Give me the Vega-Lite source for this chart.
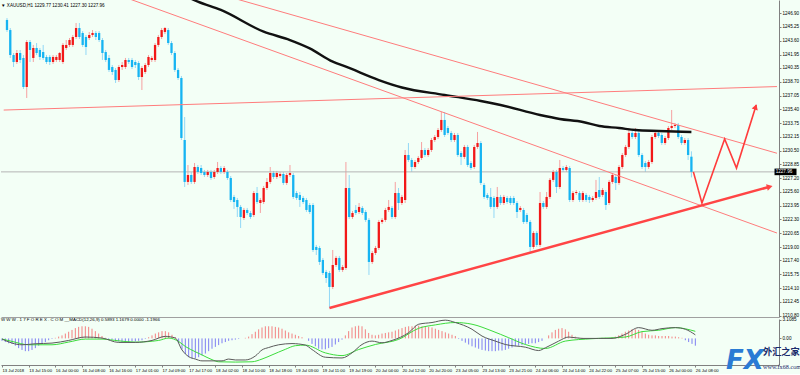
{
"$schema": "https://vega.github.io/schema/vega-lite/v6.json",
"background": "#F3FFF6",
"padding": 0,
"spacing": 2,
"bounds": "flush",
"config": {"view": {"stroke": null}, "axis": {"labelFont": "Liberation Sans", "labelFontSize": 4.6, "labelColor": "#000000", "domainColor": "#808080", "tickColor": "#808080", "grid": false, "labelOverlap": false, "labelSeparation": 0}},
"datasets": {
"bars": [
{"i":0,"o":1246.07,"h":1246.30,"l":1244.64,"c":1244.87,"m":-0.4},
{"i":1,"o":1244.87,"h":1245.11,"l":1241.54,"c":1241.89,"m":-0.6},
{"i":2,"o":1241.89,"h":1242.13,"l":1240.46,"c":1241.06,"m":-0.8},
{"i":3,"o":1241.06,"h":1242.49,"l":1240.82,"c":1242.13,"m":-0.9},
{"i":4,"o":1242.13,"h":1242.49,"l":1240.94,"c":1241.30,"m":-1.2},
{"i":5,"o":1241.54,"h":1241.89,"l":1237.84,"c":1238.08,"m":-1.6},
{"i":6,"o":1238.08,"h":1243.68,"l":1236.77,"c":1243.44,"m":-1.9},
{"i":7,"o":1243.44,"h":1243.68,"l":1241.06,"c":1242.49,"m":-2.1},
{"i":8,"o":1241.54,"h":1243.09,"l":1241.06,"c":1242.73,"m":-2.1},
{"i":9,"o":1242.73,"h":1243.32,"l":1241.89,"c":1242.13,"m":-1.9},
{"i":10,"o":1242.49,"h":1242.73,"l":1241.30,"c":1241.66,"m":-1.6},
{"i":11,"o":1242.25,"h":1243.09,"l":1241.30,"c":1241.54,"m":-1.2},
{"i":12,"o":1241.66,"h":1241.89,"l":1240.82,"c":1241.06,"m":-0.9},
{"i":13,"o":1241.66,"h":1241.89,"l":1240.70,"c":1241.06,"m":-0.6},
{"i":14,"o":1241.06,"h":1241.89,"l":1240.82,"c":1241.66,"m":-0.3},
{"i":15,"o":1241.30,"h":1241.89,"l":1241.06,"c":1241.66,"m":-0.1},
{"i":16,"o":1241.30,"h":1242.25,"l":1241.06,"c":1242.13,"m":0.1},
{"i":17,"o":1241.06,"h":1243.32,"l":1240.82,"c":1243.09,"m":0.3},
{"i":18,"o":1242.73,"h":1243.68,"l":1242.49,"c":1243.09,"m":0.5},
{"i":19,"o":1243.09,"h":1243.92,"l":1242.85,"c":1243.68,"m":0.8},
{"i":20,"o":1243.09,"h":1244.28,"l":1242.85,"c":1244.04,"m":1.1},
{"i":21,"o":1244.04,"h":1245.71,"l":1243.80,"c":1245.11,"m":1.4},
{"i":22,"o":1245.11,"h":1245.71,"l":1243.80,"c":1244.04,"m":1.7},
{"i":23,"o":1244.52,"h":1244.75,"l":1242.85,"c":1243.09,"m":1.9},
{"i":24,"o":1244.04,"h":1244.28,"l":1241.89,"c":1242.85,"m":2.0},
{"i":25,"o":1243.92,"h":1244.64,"l":1243.68,"c":1244.28,"m":2.0},
{"i":26,"o":1244.28,"h":1244.87,"l":1244.04,"c":1244.52,"m":1.9},
{"i":27,"o":1244.52,"h":1244.75,"l":1243.68,"c":1244.04,"m":1.6},
{"i":28,"o":1244.52,"h":1244.75,"l":1243.44,"c":1243.68,"m":1.2},
{"i":29,"o":1243.68,"h":1243.92,"l":1241.30,"c":1242.13,"m":0.8},
{"i":30,"o":1242.25,"h":1242.49,"l":1241.06,"c":1241.30,"m":0.4},
{"i":31,"o":1241.54,"h":1241.89,"l":1239.87,"c":1240.11,"m":0.1},
{"i":32,"o":1240.46,"h":1240.70,"l":1239.51,"c":1239.87,"m":-0.1},
{"i":33,"o":1240.11,"h":1240.34,"l":1238.56,"c":1238.91,"m":-0.2},
{"i":34,"o":1238.91,"h":1240.70,"l":1238.68,"c":1240.46,"m":-0.4},
{"i":35,"o":1240.46,"h":1241.06,"l":1240.11,"c":1240.70,"m":-0.5},
{"i":36,"o":1240.46,"h":1241.54,"l":1240.23,"c":1241.30,"m":-0.6},
{"i":37,"o":1241.30,"h":1241.54,"l":1240.82,"c":1241.06,"m":-0.6},
{"i":38,"o":1241.30,"h":1241.54,"l":1240.23,"c":1240.46,"m":-0.6},
{"i":39,"o":1241.06,"h":1241.30,"l":1240.34,"c":1240.70,"m":-0.5},
{"i":40,"o":1240.94,"h":1241.18,"l":1238.91,"c":1239.27,"m":-0.5},
{"i":41,"o":1239.27,"h":1240.58,"l":1237.72,"c":1240.34,"m":-0.4},
{"i":42,"o":1239.87,"h":1240.94,"l":1239.63,"c":1240.70,"m":-0.3},
{"i":43,"o":1240.70,"h":1241.89,"l":1240.46,"c":1241.66,"m":-0.1},
{"i":44,"o":1241.30,"h":1241.77,"l":1241.06,"c":1241.54,"m":0.2},
{"i":45,"o":1241.30,"h":1243.32,"l":1241.06,"c":1243.09,"m":0.5},
{"i":46,"o":1243.09,"h":1244.28,"l":1242.85,"c":1244.04,"m":0.8},
{"i":47,"o":1244.04,"h":1245.11,"l":1243.80,"c":1244.87,"m":1.0},
{"i":48,"o":1244.64,"h":1245.23,"l":1244.40,"c":1245.11,"m":1.2},
{"i":49,"o":1244.87,"h":1245.11,"l":1243.09,"c":1243.32,"m":1.2},
{"i":50,"o":1243.32,"h":1243.56,"l":1241.89,"c":1242.13,"m":1.0},
{"i":51,"o":1242.13,"h":1242.37,"l":1239.87,"c":1240.11,"m":0.6},
{"i":52,"o":1240.11,"h":1240.34,"l":1238.91,"c":1239.15,"m":0.2},
{"i":53,"o":1239.15,"h":1239.39,"l":1231.76,"c":1232.00,"m":-0.8},
{"i":54,"o":1231.76,"h":1234.50,"l":1226.16,"c":1226.76,"m":-1.8},
{"i":55,"o":1226.76,"h":1228.78,"l":1226.40,"c":1227.59,"m":-2.6},
{"i":56,"o":1227.59,"h":1227.95,"l":1226.52,"c":1226.76,"m":-3.1},
{"i":57,"o":1226.76,"h":1229.02,"l":1226.52,"c":1228.54,"m":-3.3},
{"i":58,"o":1228.54,"h":1228.78,"l":1227.71,"c":1227.95,"m":-3.3},
{"i":59,"o":1228.42,"h":1228.78,"l":1227.59,"c":1227.83,"m":-3.1},
{"i":60,"o":1227.95,"h":1228.19,"l":1227.35,"c":1227.59,"m":-2.8},
{"i":61,"o":1227.59,"h":1228.19,"l":1227.35,"c":1227.95,"m":-2.5},
{"i":62,"o":1227.95,"h":1228.19,"l":1227.00,"c":1227.23,"m":-2.1},
{"i":63,"o":1227.35,"h":1228.19,"l":1227.11,"c":1227.95,"m":-1.7},
{"i":64,"o":1227.95,"h":1229.14,"l":1227.71,"c":1228.42,"m":-1.4},
{"i":65,"o":1228.42,"h":1228.66,"l":1227.71,"c":1227.95,"m":-1.1},
{"i":66,"o":1227.95,"h":1228.66,"l":1227.71,"c":1228.42,"m":-0.8},
{"i":67,"o":1227.95,"h":1228.19,"l":1227.00,"c":1227.23,"m":-0.6},
{"i":68,"o":1227.23,"h":1227.47,"l":1224.37,"c":1224.61,"m":-0.4},
{"i":69,"o":1224.97,"h":1225.21,"l":1223.54,"c":1224.37,"m":-0.3},
{"i":70,"o":1224.61,"h":1224.85,"l":1222.58,"c":1223.78,"m":-0.2},
{"i":71,"o":1223.78,"h":1224.01,"l":1221.27,"c":1222.58,"m":-0.1},
{"i":72,"o":1222.46,"h":1223.66,"l":1222.23,"c":1223.42,"m":0.0},
{"i":73,"o":1223.42,"h":1223.66,"l":1222.82,"c":1223.06,"m":0.1},
{"i":74,"o":1223.06,"h":1223.30,"l":1222.35,"c":1222.58,"m":0.3},
{"i":75,"o":1222.82,"h":1225.68,"l":1222.58,"c":1225.44,"m":0.7},
{"i":76,"o":1225.44,"h":1226.16,"l":1224.13,"c":1224.37,"m":1.1},
{"i":77,"o":1224.25,"h":1224.85,"l":1223.06,"c":1224.61,"m":1.5},
{"i":78,"o":1224.37,"h":1226.28,"l":1224.13,"c":1226.04,"m":1.8},
{"i":79,"o":1226.04,"h":1227.23,"l":1225.80,"c":1226.76,"m":2.0},
{"i":80,"o":1226.76,"h":1228.54,"l":1226.52,"c":1227.83,"m":2.0},
{"i":81,"o":1227.83,"h":1228.07,"l":1227.11,"c":1227.35,"m":2.0},
{"i":82,"o":1227.35,"h":1228.07,"l":1227.11,"c":1227.83,"m":1.9},
{"i":83,"o":1227.47,"h":1227.95,"l":1227.23,"c":1227.71,"m":1.8},
{"i":84,"o":1227.71,"h":1227.95,"l":1226.40,"c":1226.64,"m":1.6},
{"i":85,"o":1226.64,"h":1227.83,"l":1226.40,"c":1227.59,"m":1.3},
{"i":86,"o":1227.59,"h":1228.78,"l":1227.35,"c":1227.83,"m":1.0},
{"i":87,"o":1227.59,"h":1227.83,"l":1224.73,"c":1224.97,"m":0.8},
{"i":88,"o":1225.44,"h":1225.68,"l":1224.61,"c":1224.85,"m":0.6},
{"i":89,"o":1225.21,"h":1225.56,"l":1223.78,"c":1224.61,"m":0.4},
{"i":90,"o":1224.85,"h":1225.09,"l":1224.13,"c":1224.37,"m":0.2},
{"i":91,"o":1224.61,"h":1224.85,"l":1223.18,"c":1223.42,"m":0.0},
{"i":92,"o":1224.01,"h":1224.25,"l":1222.94,"c":1223.18,"m":-0.4},
{"i":93,"o":1224.01,"h":1224.25,"l":1218.41,"c":1218.65,"m":-0.9},
{"i":94,"o":1219.01,"h":1219.25,"l":1218.05,"c":1218.65,"m":-1.3},
{"i":95,"o":1218.89,"h":1219.13,"l":1216.86,"c":1217.22,"m":-1.7},
{"i":96,"o":1217.46,"h":1217.70,"l":1215.67,"c":1215.91,"m":-1.8},
{"i":97,"o":1216.03,"h":1216.27,"l":1214.72,"c":1215.31,"m":-1.8},
{"i":98,"o":1215.91,"h":1216.15,"l":1211.74,"c":1214.24,"m":-1.6},
{"i":99,"o":1214.24,"h":1218.65,"l":1214.00,"c":1216.86,"m":-1.4},
{"i":100,"o":1216.86,"h":1217.94,"l":1216.62,"c":1217.70,"m":-1.0},
{"i":101,"o":1217.70,"h":1217.94,"l":1216.03,"c":1216.27,"m":-0.6},
{"i":102,"o":1216.27,"h":1216.86,"l":1216.03,"c":1216.62,"m":-0.2},
{"i":103,"o":1216.50,"h":1229.14,"l":1216.27,"c":1226.04,"m":0.5},
{"i":104,"o":1226.04,"h":1227.59,"l":1222.35,"c":1222.58,"m":1.2},
{"i":105,"o":1222.58,"h":1223.30,"l":1222.35,"c":1223.06,"m":1.8},
{"i":106,"o":1223.42,"h":1224.01,"l":1222.82,"c":1223.06,"m":2.0},
{"i":107,"o":1223.18,"h":1224.25,"l":1222.94,"c":1223.78,"m":2.1},
{"i":108,"o":1223.66,"h":1223.89,"l":1222.82,"c":1223.06,"m":2.0},
{"i":109,"o":1223.18,"h":1223.42,"l":1221.99,"c":1222.23,"m":1.5},
{"i":110,"o":1222.23,"h":1222.46,"l":1215.67,"c":1217.22,"m":0.9},
{"i":111,"o":1217.22,"h":1218.53,"l":1216.98,"c":1218.29,"m":0.6},
{"i":112,"o":1218.29,"h":1219.13,"l":1218.05,"c":1218.89,"m":0.5},
{"i":113,"o":1218.89,"h":1222.23,"l":1218.65,"c":1221.99,"m":0.6},
{"i":114,"o":1221.99,"h":1222.46,"l":1221.75,"c":1222.23,"m":0.8},
{"i":115,"o":1222.23,"h":1223.66,"l":1221.99,"c":1223.42,"m":0.9},
{"i":116,"o":1223.42,"h":1224.61,"l":1223.18,"c":1223.78,"m":1.0},
{"i":117,"o":1223.66,"h":1223.89,"l":1222.35,"c":1222.58,"m":1.1},
{"i":118,"o":1222.58,"h":1226.76,"l":1222.35,"c":1225.44,"m":1.3},
{"i":119,"o":1225.44,"h":1226.04,"l":1223.42,"c":1224.25,"m":1.5},
{"i":120,"o":1224.25,"h":1225.21,"l":1224.01,"c":1224.97,"m":1.7},
{"i":121,"o":1224.61,"h":1230.57,"l":1224.25,"c":1229.97,"m":1.9},
{"i":122,"o":1229.97,"h":1231.40,"l":1229.14,"c":1229.38,"m":2.0},
{"i":123,"o":1229.38,"h":1229.62,"l":1227.95,"c":1228.54,"m":2.0},
{"i":124,"o":1228.54,"h":1229.38,"l":1228.31,"c":1229.14,"m":2.1},
{"i":125,"o":1229.14,"h":1229.85,"l":1228.90,"c":1229.62,"m":2.1},
{"i":126,"o":1229.62,"h":1231.52,"l":1229.38,"c":1230.57,"m":2.0},
{"i":127,"o":1230.57,"h":1230.81,"l":1229.74,"c":1229.97,"m":2.0},
{"i":128,"o":1229.97,"h":1230.81,"l":1229.74,"c":1230.57,"m":1.9},
{"i":129,"o":1230.57,"h":1232.00,"l":1230.33,"c":1231.76,"m":1.8},
{"i":130,"o":1231.76,"h":1232.36,"l":1231.52,"c":1232.12,"m":1.6},
{"i":131,"o":1232.12,"h":1233.19,"l":1231.88,"c":1232.95,"m":1.4},
{"i":132,"o":1232.95,"h":1235.10,"l":1232.72,"c":1234.15,"m":1.2},
{"i":133,"o":1234.15,"h":1235.10,"l":1232.12,"c":1232.36,"m":1.0},
{"i":134,"o":1233.19,"h":1233.43,"l":1232.36,"c":1232.60,"m":0.8},
{"i":135,"o":1232.60,"h":1232.84,"l":1231.52,"c":1231.76,"m":0.6},
{"i":136,"o":1231.76,"h":1232.60,"l":1231.52,"c":1232.36,"m":0.4},
{"i":137,"o":1232.36,"h":1232.60,"l":1229.74,"c":1229.97,"m":-0.1},
{"i":138,"o":1230.21,"h":1230.45,"l":1228.78,"c":1229.74,"m":-0.4},
{"i":139,"o":1229.74,"h":1231.17,"l":1229.50,"c":1230.93,"m":-0.7},
{"i":140,"o":1230.93,"h":1231.17,"l":1228.54,"c":1228.78,"m":-1.0},
{"i":141,"o":1229.02,"h":1229.26,"l":1228.19,"c":1228.42,"m":-1.3},
{"i":142,"o":1228.54,"h":1231.17,"l":1228.31,"c":1230.93,"m":-1.5},
{"i":143,"o":1230.93,"h":1232.72,"l":1230.69,"c":1231.40,"m":-1.7},
{"i":144,"o":1231.40,"h":1231.64,"l":1226.40,"c":1226.64,"m":-1.9},
{"i":145,"o":1226.40,"h":1226.64,"l":1224.73,"c":1224.97,"m":-2.0},
{"i":146,"o":1225.21,"h":1225.44,"l":1224.61,"c":1224.85,"m":-2.1},
{"i":147,"o":1224.97,"h":1226.04,"l":1223.54,"c":1223.78,"m":-2.1},
{"i":148,"o":1224.85,"h":1225.09,"l":1222.46,"c":1223.78,"m":-2.1},
{"i":149,"o":1223.78,"h":1226.16,"l":1223.54,"c":1224.97,"m":-2.0},
{"i":150,"o":1224.97,"h":1225.21,"l":1224.01,"c":1224.25,"m":-2.0},
{"i":151,"o":1224.25,"h":1225.21,"l":1224.01,"c":1224.97,"m":-1.9},
{"i":152,"o":1224.85,"h":1225.09,"l":1224.13,"c":1224.37,"m":-1.7},
{"i":153,"o":1224.85,"h":1225.09,"l":1224.01,"c":1224.25,"m":-1.5},
{"i":154,"o":1224.85,"h":1225.09,"l":1224.01,"c":1224.25,"m":-1.3},
{"i":155,"o":1224.25,"h":1224.49,"l":1222.46,"c":1223.18,"m":-1.2},
{"i":156,"o":1223.42,"h":1223.89,"l":1223.18,"c":1223.66,"m":-1.1},
{"i":157,"o":1223.42,"h":1223.66,"l":1221.75,"c":1221.99,"m":-1.0},
{"i":158,"o":1222.82,"h":1223.06,"l":1221.75,"c":1221.99,"m":-0.9},
{"i":159,"o":1221.99,"h":1222.23,"l":1218.41,"c":1219.01,"m":-0.8},
{"i":160,"o":1219.01,"h":1220.91,"l":1218.77,"c":1220.68,"m":-0.8},
{"i":161,"o":1220.68,"h":1220.91,"l":1219.01,"c":1219.25,"m":-0.6},
{"i":162,"o":1219.25,"h":1225.56,"l":1219.01,"c":1224.25,"m":-0.4},
{"i":163,"o":1224.25,"h":1224.49,"l":1223.54,"c":1223.78,"m":0.0},
{"i":164,"o":1223.78,"h":1225.56,"l":1223.54,"c":1224.97,"m":0.5},
{"i":165,"o":1224.97,"h":1227.23,"l":1224.73,"c":1227.00,"m":1.0},
{"i":166,"o":1227.00,"h":1228.19,"l":1226.76,"c":1227.95,"m":1.4},
{"i":167,"o":1227.95,"h":1228.19,"l":1225.44,"c":1226.16,"m":1.6},
{"i":168,"o":1226.16,"h":1229.38,"l":1225.92,"c":1228.42,"m":1.7},
{"i":169,"o":1228.42,"h":1228.66,"l":1227.95,"c":1228.19,"m":1.5},
{"i":170,"o":1228.19,"h":1228.78,"l":1227.95,"c":1228.54,"m":1.1},
{"i":171,"o":1228.42,"h":1228.66,"l":1224.37,"c":1224.61,"m":0.6},
{"i":172,"o":1224.61,"h":1225.68,"l":1224.37,"c":1225.44,"m":0.3},
{"i":173,"o":1225.44,"h":1225.80,"l":1225.21,"c":1225.56,"m":0.1},
{"i":174,"o":1225.44,"h":1225.68,"l":1224.37,"c":1224.61,"m":0.1},
{"i":175,"o":1224.61,"h":1225.68,"l":1224.37,"c":1225.44,"m":0.05},
{"i":176,"o":1225.21,"h":1225.44,"l":1224.37,"c":1224.61,"m":0.05},
{"i":177,"o":1224.97,"h":1225.21,"l":1224.25,"c":1224.61,"m":0.0},
{"i":178,"o":1224.61,"h":1225.09,"l":1224.37,"c":1224.85,"m":-0.05},
{"i":179,"o":1224.85,"h":1227.00,"l":1224.61,"c":1225.56,"m":0.05},
{"i":180,"o":1225.80,"h":1227.35,"l":1224.73,"c":1224.97,"m":0.1},
{"i":181,"o":1225.21,"h":1226.04,"l":1224.97,"c":1225.80,"m":0.1},
{"i":182,"o":1225.56,"h":1225.80,"l":1223.42,"c":1224.01,"m":0.1},
{"i":183,"o":1224.25,"h":1227.00,"l":1224.01,"c":1226.76,"m":0.2},
{"i":184,"o":1226.76,"h":1227.83,"l":1226.52,"c":1227.59,"m":0.3},
{"i":185,"o":1227.35,"h":1227.59,"l":1225.80,"c":1226.64,"m":0.5},
{"i":186,"o":1226.64,"h":1228.78,"l":1226.40,"c":1228.54,"m":0.8},
{"i":187,"o":1228.54,"h":1230.21,"l":1228.31,"c":1229.97,"m":1.1},
{"i":188,"o":1229.97,"h":1231.17,"l":1229.74,"c":1230.93,"m":1.3},
{"i":189,"o":1230.93,"h":1233.19,"l":1230.69,"c":1232.60,"m":1.5},
{"i":190,"o":1232.60,"h":1232.84,"l":1231.88,"c":1232.12,"m":1.5},
{"i":191,"o":1232.12,"h":1233.19,"l":1231.88,"c":1232.60,"m":1.4},
{"i":192,"o":1232.60,"h":1232.84,"l":1229.74,"c":1229.97,"m":1.1},
{"i":193,"o":1229.97,"h":1230.21,"l":1228.31,"c":1228.54,"m":0.8},
{"i":194,"o":1229.02,"h":1229.26,"l":1227.95,"c":1228.54,"m":0.6},
{"i":195,"o":1228.54,"h":1229.38,"l":1228.31,"c":1229.14,"m":0.5},
{"i":196,"o":1229.14,"h":1232.36,"l":1228.90,"c":1232.12,"m":0.5},
{"i":197,"o":1232.12,"h":1232.95,"l":1231.88,"c":1232.60,"m":0.4},
{"i":198,"o":1232.60,"h":1232.84,"l":1232.00,"c":1232.24,"m":0.4},
{"i":199,"o":1232.36,"h":1232.60,"l":1231.17,"c":1231.40,"m":0.4},
{"i":200,"o":1231.40,"h":1232.24,"l":1231.17,"c":1232.00,"m":0.4},
{"i":201,"o":1232.00,"h":1233.43,"l":1231.76,"c":1233.19,"m":0.3},
{"i":202,"o":1233.19,"h":1235.34,"l":1232.95,"c":1233.43,"m":0.3},
{"i":203,"o":1233.43,"h":1233.79,"l":1233.19,"c":1233.55,"m":0.2},
{"i":204,"o":1233.55,"h":1233.79,"l":1231.88,"c":1232.12,"m":0.1},
{"i":205,"o":1232.12,"h":1232.36,"l":1231.17,"c":1231.40,"m":-0.3},
{"i":206,"o":1231.40,"h":1232.00,"l":1231.17,"c":1231.76,"m":-0.6},
{"i":207,"o":1231.76,"h":1232.00,"l":1229.38,"c":1229.97,"m":-0.9},
{"i":208,"o":1229.77,"h":1230.41,"l":1227.30,"c":1227.96,"m":-1.2}
],
"ma": [
{"i":50,"p":1249.76},{"i":58,"p":1248.25},{"i":65,"p":1247.26},{"i":78,"p":1244.67},{"i":86,"p":1243.68},{"i":92,"p":1242.69},{"i":99,"p":1241.10},{"i":103,"p":1240.50},{"i":113,"p":1238.91},{"i":120,"p":1238.02},{"i":133,"p":1237.13},{"i":144,"p":1236.41},{"i":150,"p":1235.93},{"i":162,"p":1234.74},{"i":168,"p":1234.27},{"i":175,"p":1233.91},{"i":180,"p":1233.43},{"i":186,"p":1233.19},{"i":191,"p":1232.95},{"i":198,"p":1232.84},{"i":208,"p":1232.72}
],
"tl": [
{"k":"a","i":30,"p":1249.60},{"k":"a","i":234,"p":1220.67},
{"k":"b","i":60,"p":1249.66},{"k":"b","i":234,"p":1230.18},
{"k":"c","i":-1,"p":1235.33},{"k":"c","i":234,"p":1238.13}
],
"sup": [{"i":98,"p":1211.74},{"i":231.5,"p":1226.16}],
"proj": [{"i":208.6,"p":1227.96},{"i":211.2,"p":1224.25},{"i":218.1,"p":1231.88},{"i":221.7,"p":1228.42},{"i":227.7,"p":1235.93}],
"heads": [{"k":"sup","i":231.8,"p":1226.19},{"k":"proj","i":227.5,"p":1235.70}],
"macd": [
{"k":"MACD","i":0,"v":-0.1},{"k":"MACD","i":3,"v":-0.77},{"k":"MACD","i":6,"v":-1.05},{"k":"MACD","i":10,"v":-0.88},{"k":"MACD","i":15,"v":-0.77},{"k":"MACD","i":20,"v":-0.33},{"k":"MACD","i":25,"v":0.23},{"k":"MACD","i":30,"v":0.06},{"k":"MACD","i":35,"v":-0.66},{"k":"MACD","i":40,"v":-0.66},{"k":"MACD","i":45,"v":-0.33},{"k":"MACD","i":49,"v":0.34},{"k":"MACD","i":52,"v":0.06},{"k":"MACD","i":54,"v":-1.9},{"k":"MACD","i":56,"v":-3.0},{"k":"MACD","i":58,"v":-3.4},{"k":"MACD","i":60,"v":-3.7},{"k":"MACD","i":63,"v":-3.7},{"k":"MACD","i":66,"v":-3.7},{"k":"MACD","i":68,"v":-3.4},{"k":"MACD","i":70,"v":-3.55},{"k":"MACD","i":73,"v":-3.55},{"k":"MACD","i":76,"v":-2.9},{"k":"MACD","i":78,"v":-1.9},{"k":"MACD","i":80,"v":-1.5},{"k":"MACD","i":83,"v":-1.05},{"k":"MACD","i":87,"v":-0.85},{"k":"MACD","i":91,"v":-1.1},{"k":"MACD","i":93,"v":-1.83},{"k":"MACD","i":97,"v":-3.1},{"k":"MACD","i":102,"v":-3.22},{"k":"MACD","i":105,"v":-2.38},{"k":"MACD","i":108,"v":-1.0},{"k":"MACD","i":111,"v":-0.44},{"k":"MACD","i":114,"v":-0.72},{"k":"MACD","i":117,"v":-0.33},{"k":"MACD","i":122,"v":0.95},{"k":"MACD","i":125,"v":2.34},{"k":"MACD","i":129,"v":2.62},{"k":"MACD","i":133,"v":3.01},{"k":"MACD","i":136,"v":2.62},{"k":"MACD","i":141,"v":1.51},{"k":"MACD","i":144,"v":0.39},{"k":"MACD","i":148,"v":-0.44},{"k":"MACD","i":151,"v":-1.0},{"k":"MACD","i":157,"v":-1.44},{"k":"MACD","i":161,"v":-2.0},{"k":"MACD","i":163,"v":-1.55},{"k":"MACD","i":167,"v":-0.44},{"k":"MACD","i":170,"v":0.23},{"k":"MACD","i":174,"v":0.0},{"k":"MACD","i":179,"v":0.0},{"k":"MACD","i":183,"v":0.0},{"k":"MACD","i":187,"v":0.67},{"k":"MACD","i":191,"v":1.78},{"k":"MACD","i":195,"v":1.34},{"k":"MACD","i":198,"v":1.62},{"k":"MACD","i":202,"v":1.78},{"k":"MACD","i":205,"v":1.51},{"k":"MACD","i":208,"v":0.59},
{"k":"Signal","i":0,"v":-0.1},{"k":"Signal","i":3,"v":-0.49},{"k":"Signal","i":8,"v":-1.05},{"k":"Signal","i":15,"v":-1.05},{"k":"Signal","i":20,"v":-0.6},{"k":"Signal","i":25,"v":-0.11},{"k":"Signal","i":30,"v":-0.11},{"k":"Signal","i":35,"v":-0.4},{"k":"Signal","i":40,"v":-0.61},{"k":"Signal","i":47,"v":-0.33},{"k":"Signal","i":50,"v":0.06},{"k":"Signal","i":53,"v":-0.5},{"k":"Signal","i":55,"v":-1.33},{"k":"Signal","i":58,"v":-2.2},{"k":"Signal","i":60,"v":-2.72},{"k":"Signal","i":63,"v":-3.5},{"k":"Signal","i":65,"v":-3.85},{"k":"Signal","i":70,"v":-3.9},{"k":"Signal","i":75,"v":-3.85},{"k":"Signal","i":78,"v":-3.4},{"k":"Signal","i":81,"v":-2.72},{"k":"Signal","i":85,"v":-1.8},{"k":"Signal","i":88,"v":-1.2},{"k":"Signal","i":91,"v":-1.1},{"k":"Signal","i":97,"v":-2.38},{"k":"Signal","i":102,"v":-2.83},{"k":"Signal","i":107,"v":-1.83},{"k":"Signal","i":112,"v":-1.0},{"k":"Signal","i":119,"v":-0.16},{"k":"Signal","i":125,"v":1.67},{"k":"Signal","i":130,"v":2.23},{"k":"Signal","i":136,"v":2.62},{"k":"Signal","i":141,"v":2.34},{"k":"Signal","i":147,"v":1.23},{"k":"Signal","i":152,"v":0.12},{"k":"Signal","i":157,"v":-1.0},{"k":"Signal","i":163,"v":-1.66},{"k":"Signal","i":169,"v":-0.44},{"k":"Signal","i":177,"v":-0.05},{"k":"Signal","i":187,"v":0.23},{"k":"Signal","i":192,"v":1.12},{"k":"Signal","i":197,"v":1.34},{"k":"Signal","i":202,"v":1.78},{"k":"Signal","i":208,"v":1.17}
]
},
"vconcat": [
{
"width": 778, "height": 317,
"title": {"text": "▼ XAUUSD,H1  1229.77 1230.41 1227.30 1227.96", "anchor": "start", "orient": "top", "frame": "group", "offset": -8, "font": "Liberation Sans", "fontSize": 4.6, "fontWeight": "normal", "color": "#000000"},
"layer": [
{"data": {"name": "bars"}, "mark": {"type": "rule", "strokeWidth": 1},
 "encoding": {
  "x": {"field": "i", "type": "quantitative", "scale": {"domain": [-0.3, 233.1], "nice": false, "zero": false}, "axis": {"orient": "bottom", "title": null, "labels": false, "ticks": false, "domain": true, "domainColor": "#A0A0A0"}},
  "y": {"field": "l", "type": "quantitative", "scale": {"domain": [1210.66, 1248.45], "nice": false, "zero": false},
   "axis": {"orient": "right", "title": null, "values": [1246.90,1245.25,1243.60,1241.95,1240.35,1238.70,1237.05,1235.40,1233.75,1232.15,1230.50,1228.85,1227.20,1225.60,1223.95,1222.30,1220.65,1219.00,1217.40,1215.75,1214.10,1212.45,1210.80], "tickCount": 100, "format": ".2f", "tickSize": 2, "labelPadding": 1, "labelFlush": false, "labelOverlap": false, "labelSeparation": 0, "domain": true, "ticks": true, "labels": true}},
  "y2": {"field": "h"},
  "color": {"condition": {"test": "datum.c >= datum.o", "value": "#F6A0A0"}, "value": "#92D8F6"}}},
{"data": {"name": "bars"}, "transform": [{"filter": "datum.i == 208"}], "mark": {"type": "rule", "color": "#B4B4B4", "strokeWidth": 1},
 "encoding": {"y": {"field": "c", "type": "quantitative", "scale": {"domain": [1210.66, 1248.45], "nice": false, "zero": false}}}},
{"data": {"name": "bars"}, "mark": {"type": "bar", "width": 2.3},
 "encoding": {
  "x": {"field": "i", "type": "quantitative", "scale": {"domain": [-0.3, 233.1], "nice": false, "zero": false}},
  "y": {"field": "o", "type": "quantitative", "scale": {"domain": [1210.66, 1248.45], "nice": false, "zero": false}},
  "y2": {"field": "c"},
  "color": {"condition": {"test": "datum.c >= datum.o", "value": "#F21818"}, "value": "#16B4F2"}}},
{"data": {"name": "ma"}, "mark": {"type": "line", "color": "#111111", "strokeWidth": 2.4, "interpolate": "monotone", "clip": true},
 "encoding": {
  "x": {"field": "i", "type": "quantitative", "scale": {"domain": [-0.3, 233.1], "nice": false, "zero": false}},
  "y": {"field": "p", "type": "quantitative", "scale": {"domain": [1210.66, 1248.45], "nice": false, "zero": false}}}},
{"data": {"name": "tl"}, "mark": {"type": "line", "color": "#FF7C7C", "strokeWidth": 1, "clip": true},
 "encoding": {
  "x": {"field": "i", "type": "quantitative", "scale": {"domain": [-0.3, 233.1], "nice": false, "zero": false}},
  "y": {"field": "p", "type": "quantitative", "scale": {"domain": [1210.66, 1248.45], "nice": false, "zero": false}},
  "detail": {"field": "k"}}},
{"data": {"name": "sup"}, "mark": {"type": "line", "color": "#FF4545", "strokeWidth": 2.5, "clip": true},
 "encoding": {
  "x": {"field": "i", "type": "quantitative", "scale": {"domain": [-0.3, 233.1], "nice": false, "zero": false}},
  "y": {"field": "p", "type": "quantitative", "scale": {"domain": [1210.66, 1248.45], "nice": false, "zero": false}}}},
{"data": {"name": "proj"}, "mark": {"type": "line", "color": "#FF3C3C", "strokeWidth": 1.6},
 "encoding": {
  "x": {"field": "i", "type": "quantitative", "scale": {"domain": [-0.3, 233.1], "nice": false, "zero": false}},
  "y": {"field": "p", "type": "quantitative", "scale": {"domain": [1210.66, 1248.45], "nice": false, "zero": false}}}},
{"data": {"name": "heads"}, "transform": [{"filter": "datum.k == 'sup'"}], "mark": {"type": "point", "shape": "triangle-right", "filled": true, "opacity": 1, "color": "#FF4545", "size": 45, "angle": 345},
 "encoding": {
  "x": {"field": "i", "type": "quantitative", "scale": {"domain": [-0.3, 233.1], "nice": false, "zero": false}},
  "y": {"field": "p", "type": "quantitative", "scale": {"domain": [1210.66, 1248.45], "nice": false, "zero": false}}}},
{"data": {"name": "heads"}, "transform": [{"filter": "datum.k == 'proj'"}], "mark": {"type": "point", "shape": "triangle-right", "filled": true, "opacity": 1, "color": "#FF3C3C", "size": 40, "angle": 288},
 "encoding": {
  "x": {"field": "i", "type": "quantitative", "scale": {"domain": [-0.3, 233.1], "nice": false, "zero": false}},
  "y": {"field": "p", "type": "quantitative", "scale": {"domain": [1210.66, 1248.45], "nice": false, "zero": false}}}},
{"data": {"name": "bars"}, "transform": [{"filter": "datum.i == 208"}], "mark": {"type": "point", "shape": "M-1,-0.3L1,-0.3L1,0.3L-1,0.3Z", "filled": true, "opacity": 1, "color": "#000000", "strokeWidth": 0, "size": 484},
 "encoding": {
  "x": {"datum": 236.6},
  "y": {"field": "c", "type": "quantitative", "scale": {"domain": [1210.66, 1248.45], "nice": false, "zero": false}}}},
{"data": {"name": "bars"}, "transform": [{"filter": "datum.i == 208"}], "mark": {"type": "text", "align": "left", "baseline": "middle", "font": "Liberation Sans", "fontSize": 4.6, "color": "#FFFFFF"},
 "encoding": {
  "x": {"datum": 233.6},
  "y": {"field": "c", "type": "quantitative", "scale": {"domain": [1210.66, 1248.45], "nice": false, "zero": false}},
  "text": {"field": "c", "type": "quantitative", "format": ".2f"}}}
]
},
{
"width": 778, "height": 46,
"title": {"text": "W W W . 1 7 F O R E X . C O M __MACD(12,26,9) 0.5893 1.1679 0.0000 -1.1966", "anchor": "start", "orient": "top", "frame": "group", "offset": -6, "font": "Liberation Sans", "fontSize": 4.4, "fontWeight": "normal", "color": "#000000"},
"layer": [
{"data": {"name": "bars"}, "mark": {"type": "rule", "strokeWidth": 1},
 "encoding": {
  "x": {"field": "i", "type": "quantitative", "scale": {"domain": [-0.3, 233.1], "nice": false, "zero": false},
   "axis": {"orient": "bottom", "title": null, "values": [0,8,16,24,32,40,48,56,64,72,80,88,96,104,112,120,128,136,144,152,160,168,176,184,192,200,208], "tickCount": 100,
    "labelExpr": "['13 Jul 2018','13 Jul 15:00','16 Jul 00:00','16 Jul 08:00','16 Jul 16:00','17 Jul 01:00','17 Jul 09:00','17 Jul 17:00','18 Jul 02:00','18 Jul 10:00','18 Jul 18:00','19 Jul 03:00','19 Jul 11:00','19 Jul 19:00','20 Jul 04:00','20 Jul 12:00','20 Jul 20:00','23 Jul 05:00','23 Jul 13:00','23 Jul 21:00','24 Jul 06:00','24 Jul 14:00','24 Jul 22:00','25 Jul 07:00','25 Jul 15:00','26 Jul 00:00','26 Jul 08:00'][round(datum.value / 8)]",
    "labelAlign": "left", "labelPadding": 1, "tickSize": 2, "labelFontSize": 4.2, "labelFlush": false, "labelOverlap": false, "labelSeparation": 0, "labelBound": false, "domain": true, "ticks": true, "labels": true}},
  "y": {"field": "m", "type": "quantitative", "scale": {"domain": [-4.38, 3.2], "nice": false, "zero": false},
   "axis": {"orient": "right", "title": null, "values": [3.1085, 0], "tickCount": 100, "labelExpr": "datum.value == 0 ? '0.00' : '3.1085'", "tickSize": 2, "labelPadding": 1, "labelFlush": false, "labelOverlap": false, "domain": true, "ticks": true, "labels": true}},
  "y2": {"datum": 0},
  "color": {"condition": {"test": "datum.m >= 0", "value": "#F48080"}, "value": "#7E7EF2"}}},
{"data": {"name": "macd"}, "transform": [{"filter": "datum.k == 'Signal'"}], "mark": {"type": "line", "color": "#3CDC3C", "strokeWidth": 1, "interpolate": "monotone"},
 "encoding": {
  "x": {"field": "i", "type": "quantitative", "scale": {"domain": [-0.3, 233.1], "nice": false, "zero": false}},
  "y": {"field": "v", "type": "quantitative", "scale": {"domain": [-4.38, 3.2], "nice": false, "zero": false}}}},
{"data": {"name": "macd"}, "transform": [{"filter": "datum.k == 'MACD'"}], "mark": {"type": "line", "color": "#5A5A5A", "strokeWidth": 1, "interpolate": "monotone"},
 "encoding": {
  "x": {"field": "i", "type": "quantitative", "scale": {"domain": [-0.3, 233.1], "nice": false, "zero": false}},
  "y": {"field": "v", "type": "quantitative", "scale": {"domain": [-4.38, 3.2], "nice": false, "zero": false}}}},
{"data": {"name": "bars"}, "transform": [{"filter": "datum.i == 208"}], "mark": {"type": "text", "text": "FX", "align": "center", "baseline": "bottom", "font": "DejaVu Sans", "fontSize": 26, "fontWeight": "bold", "fontStyle": "italic", "color": "#2A7BD4"},
 "encoding": {"x": {"datum": 222.9}, "y": {"datum": -5.86}}},
{"data": {"name": "bars"}, "transform": [{"filter": "datum.i == 208"}], "mark": {"type": "text", "text": "外汇之家", "align": "left", "baseline": "middle", "font": "Noto Sans CJK SC", "fontSize": 9.2, "fontWeight": "bold", "color": "#1A2B6B"},
 "encoding": {"x": {"datum": 228.3}, "y": {"datum": -2.24}}},
{"data": {"name": "bars"}, "transform": [{"filter": "datum.i == 208"}], "mark": {"type": "text", "text": "www.fx68.com", "align": "left", "baseline": "middle", "font": "Liberation Serif", "fontSize": 6.2, "color": "#1A2B6B"},
 "encoding": {"x": {"datum": 228.3}, "y": {"datum": -4.63}}}
]
}
]
}
